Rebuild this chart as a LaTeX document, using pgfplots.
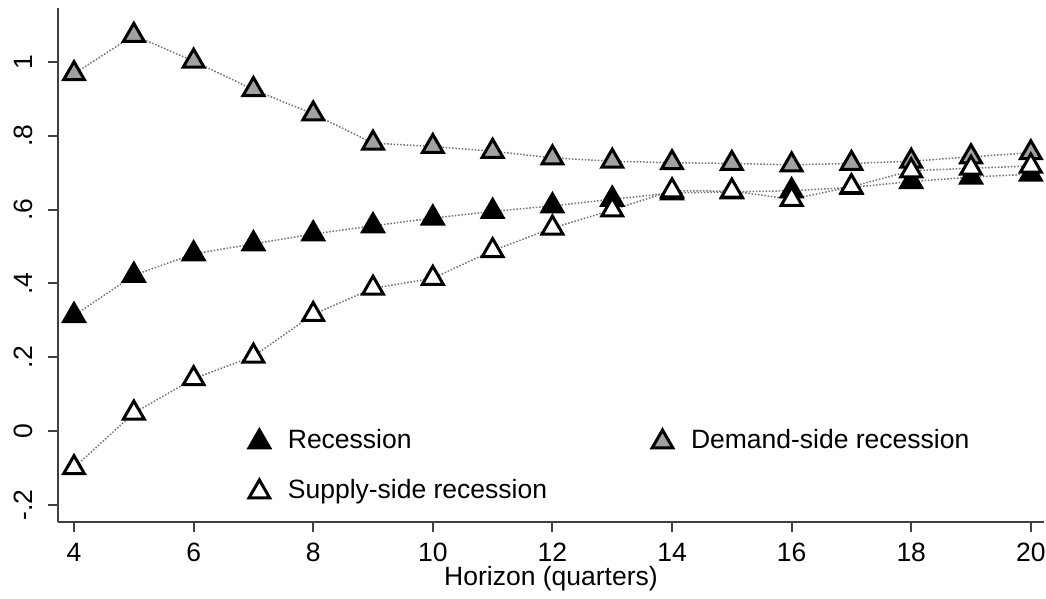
\documentclass[border=0pt]{standalone}
\usepackage{fontspec}
\setmainfont{Liberation Sans}
\usepackage{pgfplots}
\pgfplotsset{compat=1.18}

\definecolor{mkgray}{gray}{0.63}
\definecolor{axgray}{gray}{0.25}
\definecolor{lngray}{gray}{0.45}

\begin{document}
\begin{tikzpicture}[x=1pt,y=1pt]
\path[use as bounding box] (0,0) rectangle (418.4,239.6);
\begin{axis}[
    at={(23.2pt,30.8pt)}, anchor=south west,
    scale only axis, width=394.4pt, height=205.6pt,
    xmin=3.732, xmax=20.22, ymin=-0.246, ymax=1.146,
    axis x line*=bottom, axis y line*=left,
    axis line style={axgray, line width=0.8pt},
    tick style={axgray, line width=0.8pt},
    tick align=outside, major tick length=4pt,
    xtick={4,6,...,20},
    ytick={-0.2,0,0.2,0.4,0.6,0.8,1},
    yticklabels={-.2,0,.2,.4,.6,.8,1},
    yticklabel style={rotate=90, anchor=south, yshift=2.5pt},
    xticklabel shift=1pt,
    /pgf/number format/assume math mode=true,
    ticklabel style={font=\fontsize{10.6}{12}\selectfont},
    xlabel={Horizon (quarters)},
    xlabel style={font=\fontsize{10.6}{12}\selectfont,
        at={(axis description cs:0.5,-0.1245)}, anchor=base},
    every axis plot/.append style={lngray, line width=0.6pt,
        dash pattern=on 0.6pt off 0.7pt},
    mark size=4.8pt,
    legend columns=2,
    legend cell align=left,
    legend image code/.code={
        \draw[#1] plot coordinates {(0pt,0pt)};
        \path (7.6pt,0pt);},
    legend style={draw=none, fill=none, inner sep=0pt, outer sep=0pt,
        at={(axis description cs:0.1937,0.1965)}, anchor=north west,
        font=\fontsize{10.6}{12}\selectfont,
        nodes={text height=7.6pt, text depth=2.2pt, inner sep=3.5pt},
        row sep=3.2pt,
        /tikz/every even column/.append style={column sep=38.5pt}},
]
% recession
\addplot[mark=triangle*, mark options={solid, draw=black, fill=black, line width=1.2pt}]
coordinates {
(4,0.313) (5,0.422) (6,0.480) (7,0.507) (8,0.534) (9,0.556) (10,0.577)
(11,0.595) (12,0.610) (13,0.628) (14,0.645) (15,0.648) (16,0.651)
(17,0.660) (18,0.676) (19,0.688) (20,0.696)
};
% demand-side
\addplot[mark=triangle*, mark options={solid, draw=black, fill=mkgray, line width=1.2pt}]
coordinates {
(4,0.968) (5,1.072) (6,1.002) (7,0.925) (8,0.859) (9,0.780) (10,0.771)
(11,0.758) (12,0.740) (13,0.731) (14,0.727) (15,0.725) (16,0.721)
(17,0.725) (18,0.731) (19,0.743) (20,0.754)
};
% supply-side
\addplot[mark=triangle*, mark options={solid, draw=black, fill=white, line width=1.2pt}]
coordinates {
(4,-0.099) (5,0.049) (6,0.142) (7,0.203) (8,0.316) (9,0.387) (10,0.414)
(11,0.489) (12,0.550) (13,0.599) (14,0.651) (15,0.650) (16,0.628)
(17,0.662) (18,0.705) (19,0.712) (20,0.718)
};
\legend{Recession, Demand-side recession, Supply-side recession}
\end{axis}
\end{tikzpicture}
\end{document}
